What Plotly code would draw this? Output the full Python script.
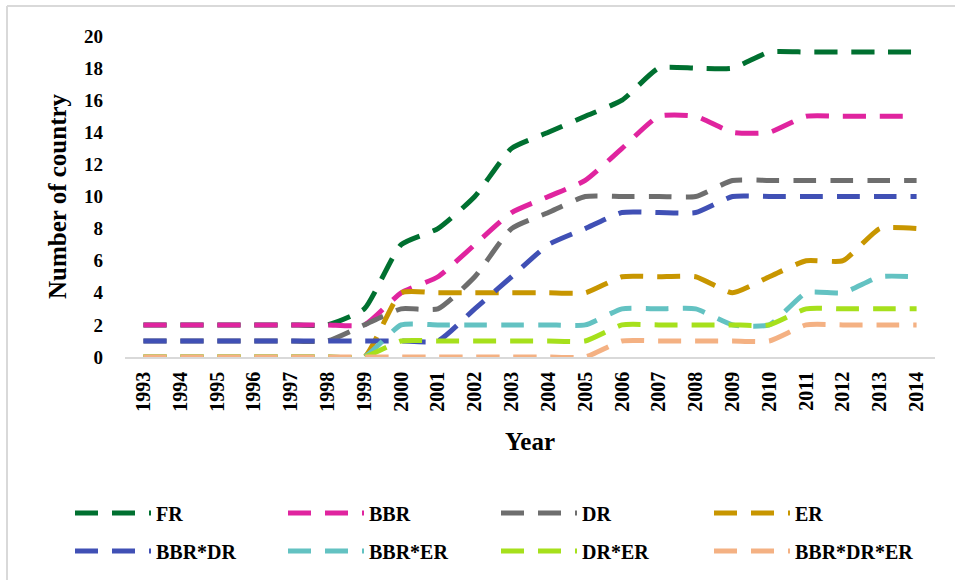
import plotly.graph_objects as go

years = [str(y) for y in range(1993, 2015)]

FR        = [2, 2, 2, 2, 2, 2, 3, 7, 8, 10, 13, 14, 15, 16, 18, 18, 18, 19, 19, 19, 19, 19]
BBR       = [2, 2, 2, 2, 2, 2, 2, 4, 5, 7, 9, 10, 11, 13, 15, 15, 14, 14, 15, 15, 15, 15]
DR        = [1, 1, 1, 1, 1, 1, 2, 3, 3, 5, 8, 9, 10, 10, 10, 10, 11, 11, 11, 11, 11, 11]
ER        = [0, 0, 0, 0, 0, 0, 0, 4, 4, 4, 4, 4, 4, 5, 5, 5, 4, 5, 6, 6, 8, 8]
BBR_DR    = [1, 1, 1, 1, 1, 1, 1, 1, 1, 3, 5, 7, 8, 9, 9, 9, 10, 10, 10, 10, 10, 10]
BBR_ER    = [0, 0, 0, 0, 0, 0, 0, 2, 2, 2, 2, 2, 2, 3, 3, 3, 2, 2, 4, 4, 5, 5]
DR_ER     = [0, 0, 0, 0, 0, 0, 0, 1, 1, 1, 1, 1, 1, 2, 2, 2, 2, 2, 3, 3, 3, 3]
BBR_DR_ER = [0, 0, 0, 0, 0, 0, 0, 0, 0, 0, 0, 0, 0, 1, 1, 1, 1, 1, 2, 2, 2, 2]

series_names = ["FR", "BBR", "DR", "ER", "BBR*DR", "BBR*ER", "DR*ER", "BBR*DR*ER"]
series_values = [FR, BBR, DR, ER, BBR_DR, BBR_ER, DR_ER, BBR_DR_ER]
colors = ["#007030", "#E0249F", "#6E6E6E", "#C89600", "#4050B5", "#63C2C2", "#A6E01C", "#F4B183"]

y_ticks = list(range(0, 21, 2))

serif = "Liberation Serif, Times New Roman, serif"

fig = go.Figure()
for i, (name, vals, col) in enumerate(zip(series_names, series_values, colors)):
    fig.add_trace(go.Scatter(
        x=years, y=vals, name=name, mode="lines",
        legend="legend" if i < 4 else "legend2",
        line=dict(color=col, width=5, dash="23px,14px", shape="spline", smoothing=0.5),
    ))

legend_common = dict(
    orientation="h", xanchor="left", yanchor="middle",
    entrywidth=122, entrywidthmode="pixels",
    font=dict(family=serif, size=20, color="black", weight="bold"),
    itemwidth=76, bgcolor="rgba(0,0,0,0)",
)

fig.update_layout(
    width=955, height=580,
    margin=dict(l=125, r=20, t=36, b=223, autoexpand=False),
    plot_bgcolor="white", paper_bgcolor="white",
    font=dict(family=serif, color="black"),
    xaxis=dict(
        type="category", tickangle=-90, showgrid=False,
        showline=True, linecolor="#D9D9D9", linewidth=1.5,
        ticks="", tickfont=dict(family=serif, size=20, color="black", weight="bold"),
        ticklabelstandoff=5,
        title=dict(text="<b>Year</b>", font=dict(family=serif, size=25), standoff=22),
        range=[-0.5, 21.5], automargin=False,
    ),
    yaxis=dict(
        range=[0, 20], tickvals=y_ticks, showgrid=False, zeroline=False,
        showline=False, ticks="", ticklabelstandoff=21,
        tickfont=dict(family=serif, size=19, color="black", weight="bold"),
        title=dict(text="<b>Number of country</b>", font=dict(family=serif, size=25), standoff=10),
        automargin=False,
    ),
    legend=dict(x=(70 - 125) / 810, y=(357 - 513) / 321, **legend_common),
    legend2=dict(x=(70 - 125) / 810, y=(357 - 551) / 321, **legend_common),
    showlegend=True,
)

# outer chart frame (top and left edges visible)
fig.add_shape(type="line", xref="paper", yref="paper",
              x0=(7 - 125) / 810, x1=1.03, y0=(357 - 6) / 321, y1=(357 - 6) / 321,
              line=dict(color="#D9D9D9", width=2))
fig.add_shape(type="line", xref="paper", yref="paper",
              x0=(7 - 125) / 810, x1=(7 - 125) / 810, y0=(357 - 6) / 321, y1=-0.72,
              line=dict(color="#D9D9D9", width=2))

fig.write_html("out.html", config={"displayModeBar": False},
               post_script="document.body.style.margin='0';document.body.style.overflow='hidden';")
